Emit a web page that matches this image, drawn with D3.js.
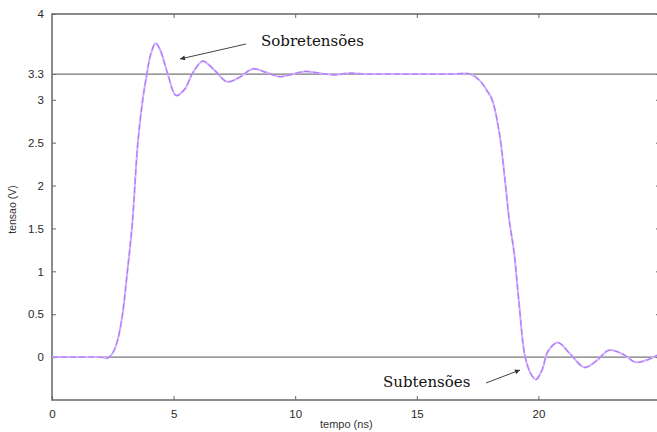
<!DOCTYPE html>
<html>
<head>
<meta charset="utf-8">
<script src="https://cdn.jsdelivr.net/npm/d3@7"></script>
<style>
  body { margin: 0; background: #fff; }
  svg { display: block; font-family: "Liberation Sans", Arial, sans-serif; }
</style>
</head>
<body>
<svg id="chart" width="657" height="432"></svg>
<script>
// waveform, time in ns, voltage in V
let tempo = [0, 1, 2, 2.3, 2.5, 2.7, 2.9, 3.1, 3.3, 3.53, 3.73, 3.9, 4.05, 4.26, 4.45, 4.75, 5.1, 5.45, 5.8, 6.2, 6.7, 7.2, 7.7, 8.25, 8.8, 9.35, 9.9, 10.4, 11, 11.6, 12.2, 12.8, 13.5, 14.5, 15.5, 16.5, 17.2, 17.6, 17.9, 18.1, 18.4, 18.65, 18.8, 19.0, 19.2, 19.45, 19.7, 19.9, 20.15, 20.4, 20.8, 21.3, 21.9, 22.4, 22.9, 23.5, 24.0, 24.5, 25];
let tensao = [0, 0, 0, -0.01, 0.05, 0.2, 0.5, 1.0, 1.55, 2.5, 3.0, 3.3, 3.52, 3.66, 3.58, 3.31, 3.05, 3.12, 3.32, 3.45, 3.34, 3.21, 3.26, 3.36, 3.32, 3.27, 3.3, 3.33, 3.31, 3.29, 3.31, 3.3, 3.3, 3.3, 3.3, 3.3, 3.3, 3.22, 3.1, 3.0, 2.6, 2.0, 1.6, 1.22, 0.64, 0.01, -0.2, -0.26, -0.15, 0.07, 0.17, 0.04, -0.12, -0.04, 0.08, 0.03, -0.06, -0.03, 0.04];

let xTicks = [0, 5, 10, 15, 20];
let yTicks = [0, 0.5, 1, 1.5, 2, 2.5, 3, 3.3, 4];
let refLines = [0, 3.3];

let margin = {top: 14, left: 52, bottom: 31};
let width = 608, height = 432 - margin.top - margin.bottom - 1;

let svg = d3.select('#chart');
let g = svg.append('g').attr('transform', 'translate(' + margin.left + ', ' + margin.top + ')');

let x = d3.scaleLinear().domain([0, 25]).range([0, width]);
let y = d3.scaleLinear().domain([-0.5, 4]).range([height, 0]);

let axisColor = '#666';

// box
g.append('rect').attr('width', width).attr('height', height)
    .style('fill', 'none').style('stroke', axisColor).style('stroke-width', 1.5);

// axes
let xAxis = g.append('g').attr('transform', 'translate(0, ' + height + ')')
    .call(d3.axisBottom(x).tickValues(xTicks).tickSizeInner(-4).tickSizeOuter(0).tickPadding(8));
let xTop = g.append('g')
    .call(d3.axisTop(x).tickValues(xTicks.slice(1)).tickSizeInner(-4).tickSizeOuter(0).tickFormat(''));
let yAxis = g.append('g')
    .call(d3.axisLeft(y).tickValues(yTicks).tickSizeInner(-4).tickSizeOuter(0).tickPadding(8).tickFormat(d3.format('')));
let yRight = g.append('g').attr('transform', 'translate(' + width + ', 0)')
    .call(d3.axisRight(y).tickValues(yTicks).tickSizeInner(-4).tickSizeOuter(0).tickFormat(''));

[xAxis, xTop, yAxis, yRight].forEach(a => {
    a.select('.domain').remove();
    a.selectAll('line').style('stroke', axisColor);
    a.selectAll('text').style('font-size', '11.5px').style('fill', '#2a2a2a');
});
xAxis.selectAll('text').attr('dy', '0.9em');

// reference lines at 0 and 3.3 V
g.selectAll('.ref').data(refLines).enter().append('line')
    .attr('class', 'ref')
    .attr('x1', 0).attr('x2', width)
    .attr('y1', d => y(d)).attr('y2', d => y(d))
    .style('stroke', '#777').style('stroke-width', 1.3);

// waveform
let pts = tempo.map((t, i) => [t, tensao[i]]);
let line = d3.line().x(d => x(d[0])).y(d => y(d[1])).curve(d3.curveCatmullRom);
g.append('path').datum(pts).attr('d', line)
    .style('fill', 'none').style('stroke', '#d2b2ff').style('stroke-width', 2);
g.append('path').datum(pts).attr('d', line)
    .style('fill', 'none').style('stroke', '#b07cf6').style('stroke-width', 1.2)
    .style('stroke-dasharray', '6,3');

// axis labels
svg.append('text')
    .attr('x', margin.left + x(12.1)).attr('y', 428)
    .style('text-anchor', 'middle').style('font-size', '11px').style('fill', '#333')
    .text('tempo (ns)');
svg.append('text')
    .attr('transform', 'translate(16, ' + (margin.top + y(1.72)) + ') rotate(-90)')
    .style('text-anchor', 'middle').style('font-size', '10.5px').style('fill', '#333')
    .text('tensao (V)');

// annotations
svg.append('defs').append('marker')
    .attr('id', 'arrow').attr('viewBox', '0 0 10 10').attr('refX', 10).attr('refY', 5)
    .attr('markerWidth', 7).attr('markerHeight', 5).attr('orient', 'auto')
    .append('path').attr('d', 'M0,0 L10,5 L0,10 z').style('fill', '#333');

let notes = [
    {text: 'Sobretensões', tx: 261, ty: 46, from: [246, 44], to: [180, 59]},
    {text: 'Subtensões', tx: 383, ty: 387, from: [486, 383], to: [520, 370]}
];
svg.selectAll('.note').data(notes).enter().append('text')
    .attr('class', 'note')
    .attr('x', d => d.tx).attr('y', d => d.ty)
    .style('font-family', '"DejaVu Serif", "Liberation Serif", serif')
    .style('font-size', '15px').style('fill', '#111')
    .text(d => d.text);
svg.selectAll('.arrowline').data(notes).enter().append('line')
    .attr('class', 'arrowline')
    .attr('x1', d => d.from[0]).attr('y1', d => d.from[1])
    .attr('x2', d => d.to[0]).attr('y2', d => d.to[1])
    .style('stroke', '#444').style('stroke-width', 1)
    .attr('marker-end', 'url(#arrow)');
</script>
</body>
</html>
